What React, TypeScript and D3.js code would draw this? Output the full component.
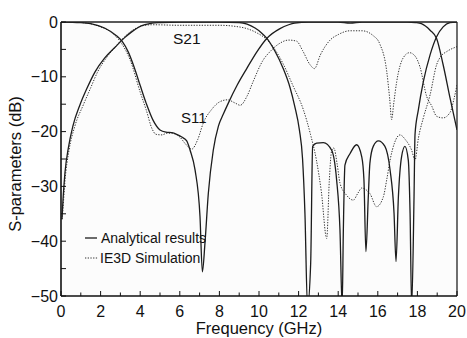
import React from 'react';
import * as d3 from 'd3';

const W = 467;
const H = 338;

// Frequency (GHz) / S-parameter (dB) pairs
const s21Analytical: [number, number][] = [
  [0.05, -36], [0.1, -32.5], [0.2, -27.5], [0.37, -23], [0.6, -19], [0.96, -15.1], [1.3, -12.2],
  [1.72, -9.1], [2.2, -6.6], [2.73, -4.6], [3.2, -2.9], [3.57, -1.8], [3.9, -1.0], [4.24, -0.5],
  [4.6, -0.2], [5.0, -0.1], [6, 0], [7, 0], [8, 0], [9, -0.1], [9.4, -0.4], [9.8, -1.1], [10.1, -1.9],
  [10.4, -3], [10.8, -5.3], [11.2, -8.3], [11.57, -12], [11.8, -15.3], [12.04, -19.7], [12.2, -25],
  [12.32, -34.9], [12.45, -52], [12.61, -44], [12.71, -22.7], [12.91, -22.1], [13.25, -22],
  [13.67, -23.4], [13.92, -28.8], [14.09, -38], [14.2, -52], [14.26, -38], [14.34, -26.1],
  [14.6, -24], [14.93, -22.4], [15.19, -24.6], [15.3, -28.8], [15.4, -41.9], [15.52, -31.9],
  [15.6, -25.8], [15.77, -22.7], [16.03, -21.7], [16.36, -22.7], [16.62, -27], [16.82, -34.9],
  [16.92, -43.7], [17.04, -31.9], [17.2, -24.6], [17.37, -22.7], [17.54, -25.2], [17.63, -34.9],
  [17.71, -52], [17.83, -31.9], [17.88, -20.5], [18.05, -16], [18.3, -10.9], [18.64, -6],
  [18.97, -2.7], [19.3, -0.9], [19.65, -0.1], [20, 0],
];

const s11Analytical: [number, number][] = [
  [0, 0], [1, -0.1], [1.5, -0.3], [2.2, -1.1], [2.8, -2.5], [3.1, -3.6], [3.4, -5.5], [3.7, -8.3],
  [4.0, -11.6], [4.3, -14.8], [4.66, -18], [5.0, -19.7], [5.3, -20.1], [5.6, -20.2], [5.84, -20.5],
  [6.1, -21], [6.35, -21.7], [6.52, -23.4], [6.77, -27], [7.02, -35.5], [7.14, -45.6], [7.27, -40.4],
  [7.44, -31.3], [7.69, -23.4], [7.95, -19], [8.2, -16.8], [8.45, -14.8], [8.9, -11.5], [9.38, -8.5],
  [9.9, -5.4], [10.39, -3], [11.06, -1.2], [11.5, -0.5], [11.8, -0.2], [12.5, 0], [14, 0],
  [14.6, -0.2], [15.2, 0], [17.5, 0], [17.9, -0.1], [18.2, -0.3], [18.64, -1.5], [18.97, -3],
  [19.3, -7.8], [19.65, -13.9], [20, -19.7],
];

const s21Simulation: [number, number][] = [
  [0.05, -36], [0.1, -34], [0.2, -29], [0.4, -23.5], [0.7, -19], [1.13, -15.1], [1.5, -12],
  [1.85, -9.1], [2.3, -6.5], [2.8, -4.3], [3.3, -2.4], [3.7, -1.3], [4.1, -0.7], [4.6, -0.5],
  [6, -0.6], [8, -0.6], [8.8, -0.8], [9.38, -1.2], [9.9, -2], [10.39, -3.2], [10.8, -5], [11.2, -7.5],
  [11.7, -11.5], [12.24, -16], [12.6, -20.5], [12.9, -25.2], [13.15, -31], [13.42, -39.5],
  [13.55, -29], [13.67, -23.5], [13.78, -23], [13.95, -26], [14.09, -29.4], [14.4, -31.5],
  [14.76, -32.5], [15.0, -31.2], [15.19, -30.3], [15.4, -30.6], [15.6, -31.3], [15.94, -33.7],
  [16.28, -31.9], [16.45, -28.8], [16.62, -25.2], [16.85, -22], [17.12, -20.6], [17.4, -21.5],
  [17.71, -23.4], [17.88, -25.2], [18.05, -21.2], [18.3, -17.5], [18.64, -13.3], [18.97, -7.8],
  [19.2, -6.2], [19.48, -5.4], [20, -4.5],
];

const s11Simulation: [number, number][] = [
  [0, 0], [1, -0.1], [2, -0.9], [2.5, -1.8], [3, -3.6], [3.5, -7], [4, -12.8], [4.3, -16],
  [4.6, -19.5], [4.8, -20.5], [5.1, -20.6], [5.35, -20.3], [5.6, -20.3], [6.0, -21], [6.3, -22.3],
  [6.6, -23.2], [6.9, -21.5], [7.2, -18.3], [7.6, -16], [8.0, -14.6], [8.4, -14.2], [8.8, -14.8],
  [9.05, -15.2], [9.4, -13.5], [9.7, -10.9], [10.2, -7], [10.56, -5.4], [11.0, -4], [11.5, -3.3],
  [11.9, -3.5], [12.2, -5.2], [12.58, -7.8], [12.8, -8.5], [13.1, -6], [13.59, -3.3], [14.0, -2.3],
  [14.6, -1.6], [15.2, -1.6], [15.77, -2.5], [16.1, -4], [16.45, -9], [16.6, -14], [16.7, -17.8],
  [16.8, -15], [16.95, -11], [17.29, -6.5], [17.6, -5.6], [17.9, -6.3], [18.13, -8.2],
  [18.47, -13.6], [18.72, -15.3], [18.97, -17.2], [19.3, -17.5], [19.65, -16.5], [19.85, -14],
  [20, -11.5],
];

const xMajorTicks = [0, 2, 4, 6, 8, 10, 12, 14, 16, 18, 20];
const yMajorTicks = [0, -10, -20, -30, -40, -50];
const legendLabels = ['Analytical results', 'IE3D Simulation'];
const curveLabels = ['S21', 'S11'];

const FONT = '"Liberation Sans", Arial, Helvetica, sans-serif';

export default function App() {
  const x = d3.scaleLinear().domain([0, 20]).range([61, 457]);
  const y = d3.scaleLinear().domain([-50, 0]).range([296, 22]);
  const line = d3
    .line<[number, number]>()
    .x((d) => x(d[0]))
    .y((d) => y(d[1]))
    .curve(d3.curveMonotoneX);

  const xMinor = d3.range(0, 21, 1);
  const yMinor = d3.range(-50, 1, 5);
  const fmt = d3.format('d');
  const [x0, x1] = x.range();
  const [yb, yt] = y.range();

  const solid = { fill: 'none', stroke: '#1c1c1c', strokeWidth: 1.3 };
  const dotted = { fill: 'none', stroke: '#333', strokeWidth: 1, strokeDasharray: '1.3,1.4' };

  return (
    <svg width={W} height={H} style={{ position: 'absolute', left: 0, top: 0, background: '#fff' }}>
      <defs>
        <clipPath id="plot">
          <rect x={x0} y={yt} width={x1 - x0} height={yb - yt} />
        </clipPath>
      </defs>
      <rect x={x0} y={yt} width={x1 - x0} height={yb - yt} fill="#fcfcfc" />
      <g clipPath="url(#plot)">
        <path d={line(s11Simulation) || ''} {...dotted} />
        <path d={line(s21Simulation) || ''} {...dotted} />
        <path d={line(s11Analytical) || ''} {...solid} />
        <path d={line(s21Analytical) || ''} {...solid} />
      </g>
      {/* frame */}
      <line x1={x0} y1={yt} x2={x1} y2={yt} stroke="#222" strokeWidth={1.3} />
      <line x1={x1} y1={yt} x2={x1} y2={yb} stroke="#222" strokeWidth={1.3} />
      <line x1={x0} y1={yt} x2={x0} y2={yb} stroke="#111" strokeWidth={1.6} />
      <line x1={x0} y1={yb} x2={x1} y2={yb} stroke="#111" strokeWidth={1.6} />
      {/* x ticks */}
      {xMinor.map((t) => (
        <line key={'xm' + t} x1={x(t)} x2={x(t)} y1={yb} y2={yb - (t % 2 === 0 ? 5 : 3.5)} stroke="#111" strokeWidth={1} />
      ))}
      {xMajorTicks.map((t) => (
        <text key={'xl' + t} x={x(t)} y={317} textAnchor="middle" fontFamily={FONT} fontSize={16} fill="#111">
          {fmt(t)}
        </text>
      ))}
      {/* y ticks */}
      {yMinor.map((t) => (
        <line key={'ym' + t} x1={x0} x2={x0 + 5} y1={y(t)} y2={y(t)} stroke="#111" strokeWidth={1} />
      ))}
      {yMajorTicks.map((t) => (
        <text key={'yl' + t} x={58} y={y(t) + 5.5} textAnchor="end" fontFamily={FONT} fontSize={16} fill="#111">
          {fmt(t)}
        </text>
      ))}
      {/* axis titles */}
      <text x={(x0 + x1) / 2} y={334} textAnchor="middle" fontFamily={FONT} fontSize={16.5} fill="#111">
        Frequency (GHz)
      </text>
      <text transform="translate(21,164) rotate(-90)" textAnchor="middle" fontFamily={FONT} fontSize={16.5} fill="#111">
        S-parameters (dB)
      </text>
      {/* curve labels */}
      <text x={173} y={44} fontFamily={FONT} fontSize={15.5} fill="#111">{curveLabels[0]}</text>
      <text x={181} y={123} fontFamily={FONT} fontSize={15} fill="#111">{curveLabels[1]}</text>
      {/* legend */}
      <line x1={85} x2={97} y1={238} y2={238} {...solid} />
      <text x={101} y={243} fontFamily={FONT} fontSize={14} fill="#111">{legendLabels[0]}</text>
      <line x1={85} x2={98} y1={258} y2={258} {...dotted} />
      <text x={100} y={263} fontFamily={FONT} fontSize={14} fill="#111">{legendLabels[1]}</text>
    </svg>
  );
}
